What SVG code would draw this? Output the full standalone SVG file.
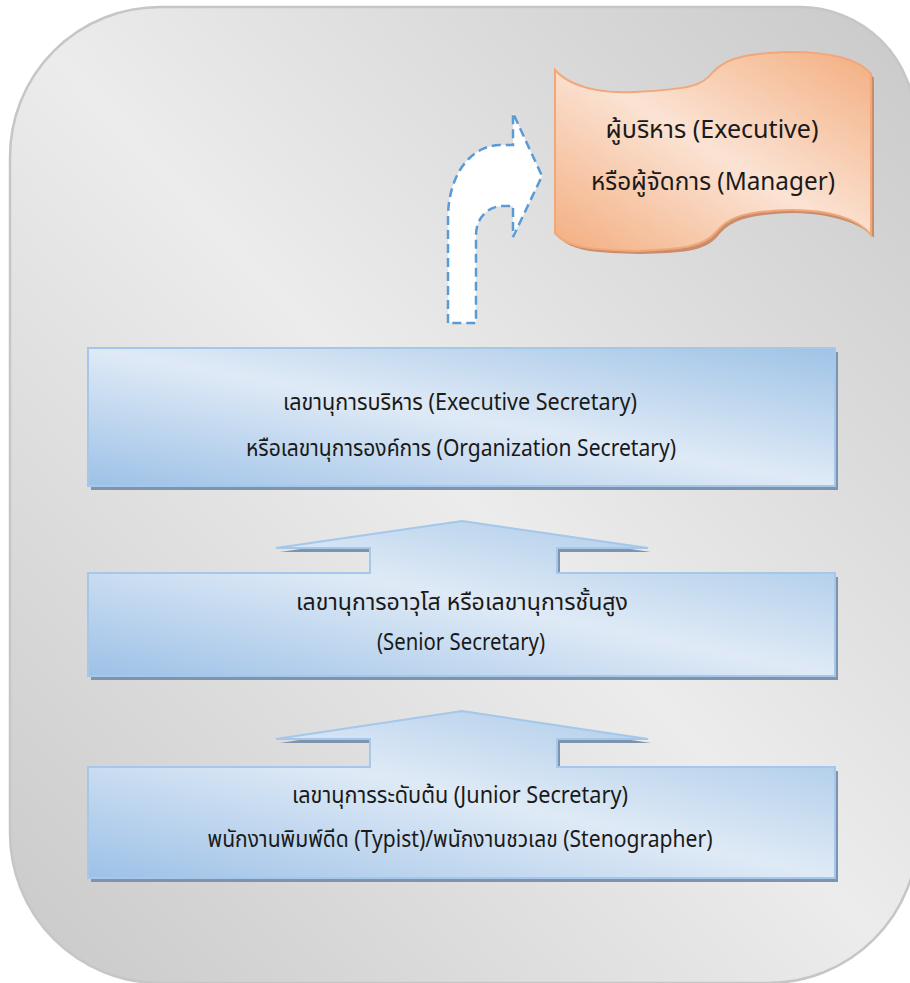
<svg xmlns="http://www.w3.org/2000/svg" width="910" height="983" viewBox="0 0 910 983">
<defs>
<linearGradient id="bg" x1="0" y1="1" x2="1" y2="0">
<stop offset="0" stop-color="#c9c9c9"/>
<stop offset="0.5" stop-color="#ececec"/>
<stop offset="1" stop-color="#c9c9c9"/>
</linearGradient>
<linearGradient id="blue" x1="0" y1="1" x2="1" y2="0">
<stop offset="0" stop-color="#9dc1e7"/>
<stop offset="0.5" stop-color="#dfeaf6"/>
<stop offset="1" stop-color="#9fc3e6"/>
</linearGradient>
<linearGradient id="orange" x1="0" y1="1" x2="1" y2="0">
<stop offset="0" stop-color="#f3ae80"/>
<stop offset="0.5" stop-color="#fbe3d4"/>
<stop offset="1" stop-color="#f3ae80"/>
</linearGradient>
<style>
.box{fill:url(#blue);stroke:#a4c7ea;stroke-width:2}
.shadow{fill:#7e93ad}
.t{font-family:"Noto Sans Thai","Liberation Sans",sans-serif;font-size:23px;fill:#1a1a1a;text-anchor:middle}
.to{font-family:"Noto Sans Thai","Liberation Sans",sans-serif;font-size:25px;fill:#1a1a1a;text-anchor:middle}
</style>
</defs>
<path id="background" d="M160 7 L800 7 A115 115 0 0 1 915 122 L918 833 A150 150 0 0 1 768 983 L160 983 A150 150 0 0 1 10 833 L10 157 A150 150 0 0 1 160 7 Z" fill="url(#bg)" stroke="#c6c6c6" stroke-width="2.5"/>
<g id="connectors">
<path d="M448 323 L448 218 C448 178 468 146 500 145 L513 145 L513 113 L542 176 L513 237 L513 206 L503 206 C488 206 476 218 476 235 L476 323 Z" fill="#ffffff" stroke="#5b9bd5" stroke-width="2.5" stroke-dasharray="9 5"/>
</g>
<g id="manager">
<path d="M558 74 C580 96 620 96 640 93 C690 90 705 88 715 74 C730 58 760 56 790 55 C830 55 860 62 874 78 L874 238 C860 222 830 214 795 213 C740 214 728 224 718 236 C705 252 680 253 640 254 C600 253 570 252 558 236 Z" fill="#c98c6c"/>
<path d="M555 70 C575 92 615 93 635 92 C690 89 703 86 713 72 C728 55 758 53 790 52 C830 52 858 58 871 74 L871 235 C858 218 828 210 792 210 C738 211 726 220 716 232 C703 248 678 249 636 251 C598 250 568 249 555 233 Z" fill="url(#orange)" stroke="#f2a779" stroke-width="2"/>
<text class="to" x="712" y="138" textLength="213" lengthAdjust="spacingAndGlyphs">ผู้บริหาร (Executive)</text>
<text class="to" x="713" y="190" textLength="244" lengthAdjust="spacingAndGlyphs">หรือผู้จัดการ (Manager)</text>
</g>
<g id="executive-secretary">
<rect class="shadow" x="91" y="352" width="747" height="138"/>
<rect class="box" x="88" y="348" width="747" height="138"/>
<text class="t" x="460" y="410" textLength="354" lengthAdjust="spacingAndGlyphs">เลขานุการบริหาร (Executive Secretary)</text>
<text class="t" x="461" y="456" textLength="430" lengthAdjust="spacingAndGlyphs">หรือเลขานุการองค์การ (Organization Secretary)</text>
</g>
<g id="senior-secretary">
<path class="shadow" d="M91 577 L373 577 L373 552 L280 552 L465 525 L651 552 L560 552 L560 577 L838 577 L838 680 L91 680 Z"/>
<path class="box" d="M88 573 L370 573 L370 548 L276 548 L462 521 L648 548 L557 548 L557 573 L835 573 L835 676 L88 676 Z"/>
<text class="t" x="462" y="610" textLength="332" lengthAdjust="spacingAndGlyphs">เลขานุการอาวุโส หรือเลขานุการชั้นสูง</text>
<text class="t" x="461" y="650" textLength="168" lengthAdjust="spacingAndGlyphs">(Senior Secretary)</text>
</g>
<g id="junior-secretary">
<path class="shadow" d="M91 771 L373 771 L373 743 L280 743 L465 715 L651 743 L560 743 L560 771 L838 771 L838 882 L91 882 Z"/>
<path class="box" d="M88 767 L370 767 L370 739 L276 739 L462 711 L648 739 L557 739 L557 767 L835 767 L835 878 L88 878 Z"/>
<text class="t" x="460" y="803" textLength="336" lengthAdjust="spacingAndGlyphs">เลขานุการระดับต้น (Junior Secretary)</text>
<text class="t" x="460" y="847" textLength="505" lengthAdjust="spacingAndGlyphs">พนักงานพิมพ์ดีด (Typist)/พนักงานชวเลข (Stenographer)</text>
</g>
</svg>
